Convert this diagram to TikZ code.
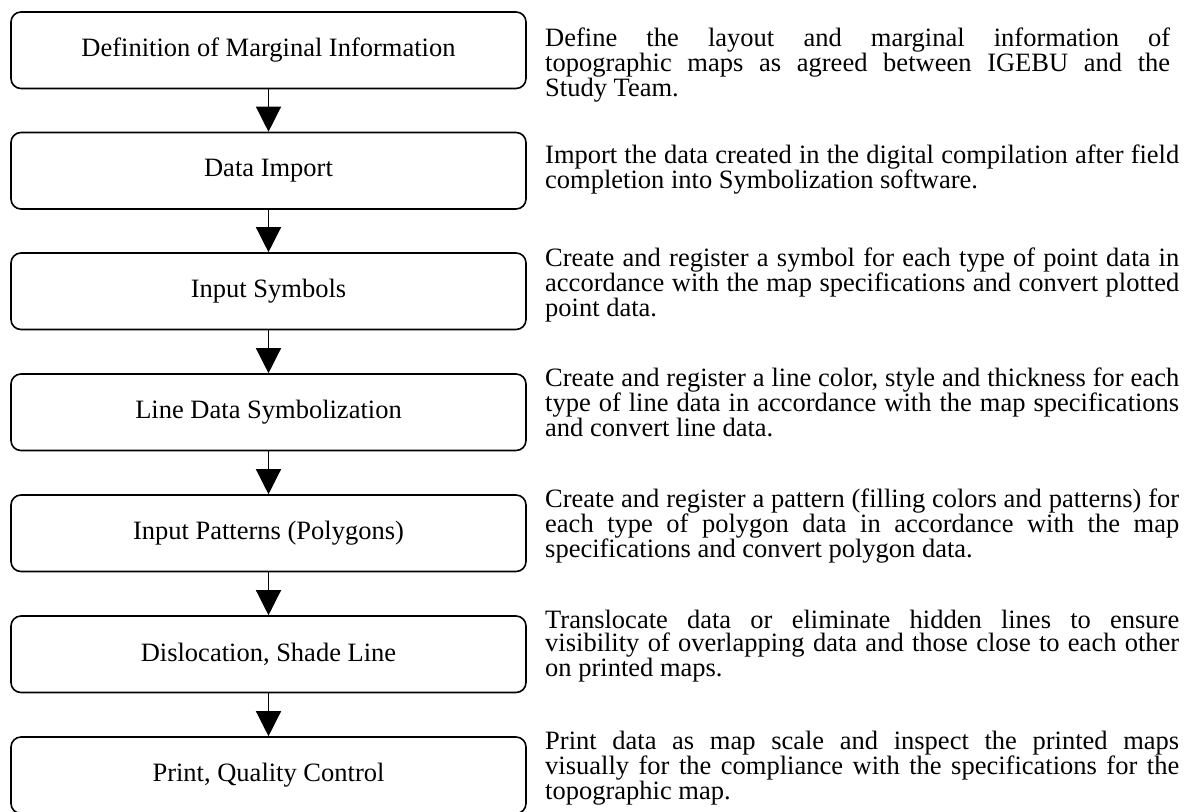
\documentclass[tikz,border=0pt]{standalone}
\usepackage{fontspec}
\setmainfont{Liberation Serif}
\usetikzlibrary{arrows.meta}
\begin{document}
\begin{tikzpicture}[x=1pt,y=-1pt,
  stepbox/.style={draw,line width=1.6pt,rounded corners=10pt,minimum width=515pt,minimum height=76.5pt,inner sep=0pt,font=\fontsize{26.5}{23.5}\selectfont},
  desc/.style={anchor=base west,inner sep=0pt,text width=634pt,align=justify,font=\fontsize{26.5}{23.5}\selectfont},
  flow/.style={line width=1.3pt,-{Triangle[length=25pt,width=25pt]}}]
\useasboundingbox (0,0) rectangle (1185,811);
\clip (0,0) rectangle (1185,811);
\node[stepbox] (b1) at (268.5,50.25) {Definition of Marginal Information};
\node[stepbox] (b2) at (268.5,170.75) {Data Import};
\node[stepbox] (b3) at (268.5,291.25) {Input Symbols};
\node[stepbox] (b4) at (268.5,412.25) {Line Data Symbolization};
\node[stepbox] (b5) at (268.5,533.25) {Input Patterns (Polygons)};
\node[stepbox] (b6) at (268.5,654.25) {Dislocation, Shade Line};
\node[stepbox] (b7) at (268.5,775.25) {Print, Quality Control};
\draw[flow] (b1) -- (b2);
\draw[flow] (b2) -- (b3);
\draw[flow] (b3) -- (b4);
\draw[flow] (b4) -- (b5);
\draw[flow] (b5) -- (b6);
\draw[flow] (b6) -- (b7);
\node[desc,text width=625pt] (d1) at (545,46) {Define the layout and marginal information of\linebreak topographic maps as agreed between IGEBU and the\linebreak Study Team.};
\node[desc] (d2) at (545,163) {Import the data created in the digital compilation after field\linebreak completion into Symbolization software.};
\node[desc] (d3) at (545,266) {Create and register a symbol for each type of point data in\linebreak accordance with the map specifications and convert plotted\linebreak point data.};
\node[desc] (d4) at (545,386) {Create and register a line color, style and thickness for each\linebreak type of line data in accordance with the map specifications\linebreak and convert line data.};
\node[desc] (d5) at (545,507) {Create and register a pattern (filling colors and patterns) for\linebreak each type of polygon data in accordance with the map\linebreak specifications and convert polygon data.};
\node[desc] (d6) at (545,628) {Translocate data or eliminate hidden lines to ensure\linebreak visibility of overlapping data and those close to each other\linebreak on printed maps.};
\node[desc] (d7) at (545,749) {Print data as map scale and inspect the printed maps\linebreak visually for the compliance with the specifications for the\linebreak topographic map.};
\end{tikzpicture}
\end{document}
